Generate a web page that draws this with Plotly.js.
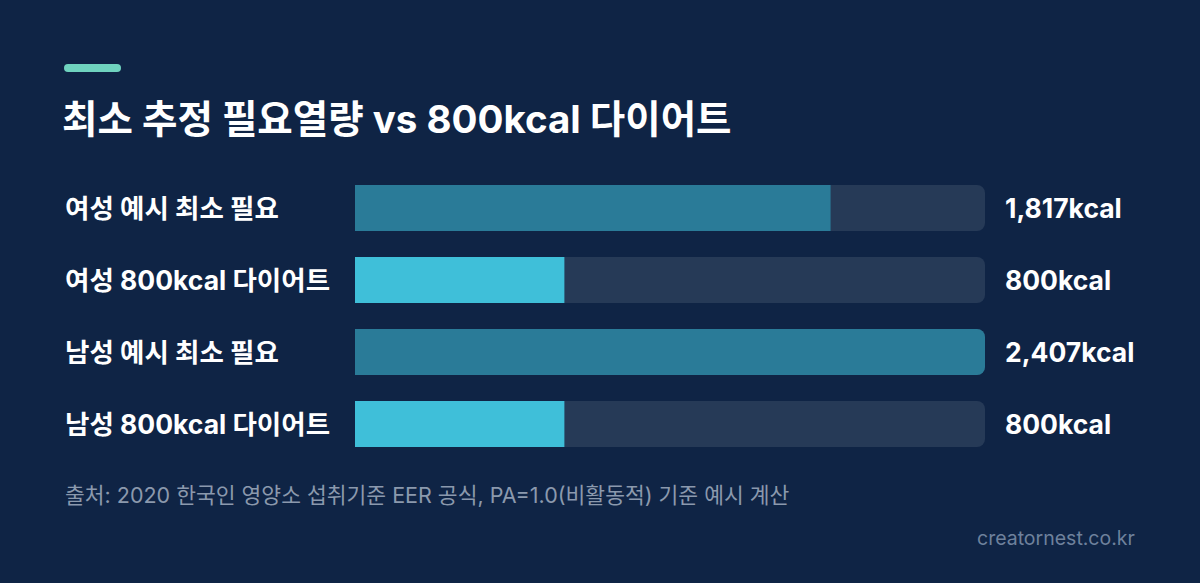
<!DOCTYPE html>
<html>
<head>
<meta charset="utf-8">
<script src="https://cdn.plot.ly/plotly-3.0.1.min.js"></script>
<style>html,body{margin:0;padding:0;background:#0f2445;}#chart{width:1200px;height:583px;}</style>
</head>
<body>
<div id="chart"></div>
<script>
const categories = ["여성 예시 최소 필요", "여성 800kcal 다이어트", "남성 예시 최소 필요", "남성 800kcal 다이어트"];
const values = [1817, 800, 2407, 800];
const valueLabels = ["1,817kcal", "800kcal", "2,407kcal", "800kcal"];
const barColors = ["#2a7b98", "#3fbfd9", "#2a7b98", "#3fbfd9"];

const W = 1200, H = 583;
const FONT = "Inter, Noto Sans CJK KR, sans-serif";
const maxVal = Math.max(...values);

const track = {
  type: "bar", orientation: "h",
  y: categories, x: categories.map(() => maxVal),
  marker: {color: "#263a57", cornerradius: 8},
  width: 0.64, hoverinfo: "skip", showlegend: false
};
const bars = {
  type: "bar", orientation: "h",
  y: categories, x: values,
  marker: {color: barColors, cornerradius: 8},
  width: 0.64, hoverinfo: "skip", showlegend: false
};

function px(x){return x / W;}
function py(y){return 1 - y / H;}
// rounded accent pill
const ax0 = 64, ax1 = 121, ay0 = 64, ay1 = 72, r = 4;
const pillPath = [
  `M ${px(ax0 + r)} ${py(ay0)}`,
  `L ${px(ax1 - r)} ${py(ay0)}`,
  `Q ${px(ax1)} ${py(ay0)} ${px(ax1)} ${py(ay0 + r)}`,
  `Q ${px(ax1)} ${py(ay1)} ${px(ax1 - r)} ${py(ay1)}`,
  `L ${px(ax0 + r)} ${py(ay1)}`,
  `Q ${px(ax0)} ${py(ay1)} ${px(ax0)} ${py(ay0 + r)}`,
  `Q ${px(ax0)} ${py(ay0)} ${px(ax0 + r)} ${py(ay0)}`,
  "Z"
].join(" ");

const annotations = [];
categories.forEach((c, i) => {
  annotations.push({
    xref: "paper", yref: "y", x: px(63), y: c, xanchor: "left", yanchor: "middle",
    text: "<b>" + c + "</b>", showarrow: false,
    font: {family: FONT, size: 26.5, color: "#ffffff"}
  });
  annotations.push({
    xref: "paper", yref: "y", x: px(1003), y: c, xanchor: "left", yanchor: "middle",
    text: "<b>" + valueLabels[i] + "</b>", showarrow: false,
    font: {family: FONT, size: 26.5, color: "#ffffff"}
  });
});
annotations.push({
  xref: "paper", yref: "paper", x: px(63), y: py(495), xanchor: "left", yanchor: "middle",
  text: "출처: 2020 한국인 영양소 섭취기준 EER 공식, PA=1.0(비활동적) 기준 예시 계산",
  showarrow: false, font: {family: FONT, size: 21.5, color: "#8b99ad"}
});
annotations.push({
  xref: "paper", yref: "paper", x: px(1137), y: py(538), xanchor: "right", yanchor: "middle",
  text: "creatornest.co.kr", showarrow: false,
  font: {family: FONT, size: 19.5, color: "#6e819c"}
});

const layout = {
  width: W, height: H,
  paper_bgcolor: "#0f2445", plot_bgcolor: "rgba(0,0,0,0)",
  margin: {l: 0, r: 0, t: 0, b: 0},
  barmode: "overlay",
  title: {
    text: "<b>최소 추정 필요열량 vs 800kcal 다이어트</b>",
    x: px(62), xanchor: "left", xref: "container",
    y: py(120), yanchor: "middle", yref: "container",
    font: {family: FONT, size: 38.5, color: "#ffffff"}
  },
  xaxis: {domain: [px(355), px(985)], range: [0, maxVal], visible: false, fixedrange: true},
  yaxis: {domain: [py(460), py(172)], autorange: "reversed", visible: false, fixedrange: true,
          categoryorder: "array", categoryarray: categories},
  shapes: [{type: "path", xref: "paper", yref: "paper", path: pillPath,
            fillcolor: "#6fd3bf", line: {width: 0}}],
  annotations: annotations
};

Plotly.newPlot("chart", [track, bars], layout, {staticPlot: true, displayModeBar: false});
</script>
</body>
</html>
